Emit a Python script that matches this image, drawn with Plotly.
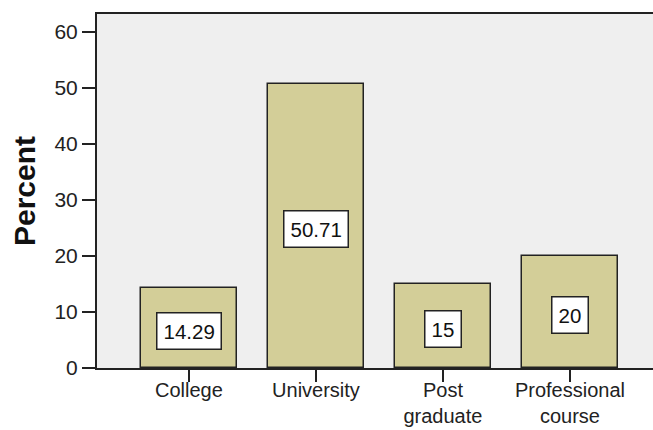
import plotly.graph_objects as go

# Education level distribution (percent of respondents)
categories = ["College", "University", "Post<br>graduate", "Professional<br>course"]
percents = [14.29, 50.71, 15, 20]
value_labels = ["14.29", "50.71", "15", "20"]
y_ticks = [0, 10, 20, 30, 40, 50, 60]

BAR_FILL = "#D3CE98"
EDGE = "#222222"
FONT = "Liberation Sans, Arial, sans-serif"

fig = go.Figure()
fig.add_trace(go.Bar(
    x=list(range(len(categories))),
    y=percents,
    width=0.756,
    marker=dict(color=BAR_FILL, line=dict(color=EDGE, width=1.5)),
    hoverinfo="skip",
))

# Value labels in white boxes at mid-height of each bar
for i, (v, lab) in enumerate(zip(percents, value_labels)):
    fig.add_annotation(
        x=i, y=v / 2, text=lab, showarrow=False,
        font=dict(family=FONT, size=20.5, color="#111111"),
        bgcolor="white", bordercolor=EDGE, borderwidth=1.5, borderpad=6,
        yshift=-3,
    )

fig.update_layout(
    width=653, height=430,
    margin=dict(l=97, r=0, t=14, b=62),
    paper_bgcolor="white",
    plot_bgcolor="#EFEFEF",
    showlegend=False,
    font=dict(family=FONT, size=21, color="#222222"),
    bargap=0,
)

fig.update_xaxes(
    range=[-0.724, 3.654],
    automargin=False,
    tickmode="array",
    tickvals=list(range(len(categories))),
    ticktext=categories,
    ticks="outside", ticklen=12, tickwidth=1.5, tickcolor=EDGE,
    ticklabelstandoff=-9,
    showline=True, linecolor=EDGE, linewidth=2, mirror=True,
    showgrid=False, zeroline=False,
    tickfont=dict(family=FONT, size=20, color="#222222"),
)

fig.update_yaxes(
    range=[0, 63.2],
    automargin=False,
    tickmode="array",
    tickvals=y_ticks,
    ticks="outside", ticklen=13, tickwidth=1.5, tickcolor=EDGE,
    showline=True, linecolor=EDGE, linewidth=2,
    showgrid=False, zeroline=False,
    tickfont=dict(family=FONT, size=21, color="#222222"),
    title=dict(text="<b>Percent</b>", font=dict(family=FONT, size=30, color="#111111"), standoff=10),
)

fig.write_html("out.html")
